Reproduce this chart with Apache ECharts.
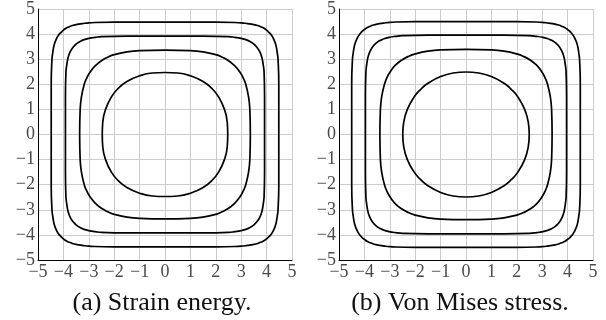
<!DOCTYPE html>
<html>
<head>
<meta charset="utf-8">
<script src="https://cdn.jsdelivr.net/npm/echarts@6/dist/echarts.min.js"></script>
<style>
  html, body { margin: 0; padding: 0; background: #fff; }
  #chart { width: 606px; height: 320px; }
</style>
</head>
<body>
<div id="chart"></div>
<script>
// tick values (both axes, both panels)
const ticks = [-5, -4, -3, -2, -1, 0, 1, 2, 3, 4, 5];
const captions = ['(a) Strain energy.', '(b) Von Mises stress.'];

// (a) strain energy contours (closed loops, clockwise from the top)
const strain1 = [[0,4.48],[2,4.48],[3,4.45],[3.25,4.42],[3.5,4.38],[3.65,4.34],[3.8,4.28],[3.9,4.23],[4,4.16],[4.08,4.08],[4.16,4],[4.23,3.9],[4.28,3.8],[4.34,3.65],[4.38,3.5],[4.42,3.25],[4.45,3],[4.48,2],[4.48,0],
  [4.48,-2],[4.45,-3],[4.42,-3.25],[4.38,-3.5],[4.34,-3.65],[4.28,-3.8],[4.23,-3.9],[4.16,-4],[4.08,-4.08],[4,-4.16],[3.9,-4.23],[3.8,-4.28],[3.65,-4.34],[3.5,-4.38],[3.25,-4.42],[3,-4.45],[2,-4.48],[0,-4.48],
  [-2,-4.48],[-3,-4.45],[-3.25,-4.42],[-3.5,-4.38],[-3.65,-4.34],[-3.8,-4.28],[-3.9,-4.23],[-4,-4.16],[-4.08,-4.08],[-4.16,-4],[-4.23,-3.9],[-4.28,-3.8],[-4.34,-3.65],[-4.38,-3.5],[-4.42,-3.25],[-4.45,-3],[-4.48,-2],[-4.48,0],
  [-4.48,2],[-4.45,3],[-4.42,3.25],[-4.38,3.5],[-4.34,3.65],[-4.28,3.8],[-4.23,3.9],[-4.16,4],[-4.08,4.08],[-4,4.16],[-3.9,4.23],[-3.8,4.28],[-3.65,4.34],[-3.5,4.38],[-3.25,4.42],[-3,4.45],[-2,4.48],[0,4.48]];
const strain2 = [[0,3.92],[1.5,3.92],[2.5,3.9],[2.75,3.87],[3,3.83],[3.15,3.79],[3.3,3.73],[3.45,3.64],[3.55,3.55],[3.64,3.45],[3.73,3.3],[3.79,3.15],[3.83,3],[3.87,2.75],[3.9,2.5],[3.92,1.5],[3.92,0],
  [3.92,-1.5],[3.9,-2.5],[3.87,-2.75],[3.83,-3],[3.79,-3.15],[3.73,-3.3],[3.64,-3.45],[3.55,-3.55],[3.45,-3.64],[3.3,-3.73],[3.15,-3.79],[3,-3.83],[2.75,-3.87],[2.5,-3.9],[1.5,-3.92],[0,-3.92],
  [-1.5,-3.92],[-2.5,-3.9],[-2.75,-3.87],[-3,-3.83],[-3.15,-3.79],[-3.3,-3.73],[-3.45,-3.64],[-3.55,-3.55],[-3.64,-3.45],[-3.73,-3.3],[-3.79,-3.15],[-3.83,-3],[-3.87,-2.75],[-3.9,-2.5],[-3.92,-1.5],[-3.92,0],
  [-3.92,1.5],[-3.9,2.5],[-3.87,2.75],[-3.83,3],[-3.79,3.15],[-3.73,3.3],[-3.64,3.45],[-3.55,3.55],[-3.45,3.64],[-3.3,3.73],[-3.15,3.79],[-3,3.83],[-2.75,3.87],[-2.5,3.9],[-1.5,3.92],[0,3.92]];
const strain3 = [[0,3.36],[1,3.34],[1.5,3.29],[2,3.18],[2.25,3.08],[2.5,2.94],[2.74,2.74],[2.94,2.5],[3.08,2.25],[3.18,2],[3.29,1.5],[3.34,1],[3.36,0],
  [3.34,-1],[3.29,-1.5],[3.18,-2],[3.08,-2.25],[2.94,-2.5],[2.74,-2.74],[2.5,-2.94],[2.25,-3.08],[2,-3.18],[1.5,-3.29],[1,-3.34],[0,-3.36],
  [-1,-3.34],[-1.5,-3.29],[-2,-3.18],[-2.25,-3.08],[-2.5,-2.94],[-2.74,-2.74],[-2.94,-2.5],[-3.08,-2.25],[-3.18,-2],[-3.29,-1.5],[-3.34,-1],[-3.36,0],
  [-3.34,1],[-3.29,1.5],[-3.18,2],[-3.08,2.25],[-2.94,2.5],[-2.74,2.74],[-2.5,2.94],[-2.25,3.08],[-2,3.18],[-1.5,3.29],[-1,3.34],[0,3.36]];
const strain4 = [[0,2.47],[0.5,2.45],[1,2.34],[1.5,2.11],[1.84,1.84],[2.11,1.5],[2.34,1],[2.45,0.5],[2.47,0],
  [2.45,-0.5],[2.34,-1],[2.11,-1.5],[1.84,-1.84],[1.5,-2.11],[1,-2.34],[0.5,-2.45],[0,-2.47],
  [-0.5,-2.45],[-1,-2.34],[-1.5,-2.11],[-1.84,-1.84],[-2.11,-1.5],[-2.34,-1],[-2.45,-0.5],[-2.47,0],
  [-2.45,0.5],[-2.34,1],[-2.11,1.5],[-1.84,1.84],[-1.5,2.11],[-1,2.34],[-0.5,2.45],[0,2.47]];

// (b) von Mises stress contours
const mises1 = [[0,4.5],[2,4.5],[3,4.47],[3.25,4.44],[3.5,4.4],[3.65,4.36],[3.8,4.3],[3.9,4.25],[4,4.18],[4.1,4.1],[4.18,4],[4.25,3.9],[4.3,3.8],[4.36,3.65],[4.4,3.5],[4.44,3.25],[4.47,3],[4.5,2],[4.5,0],
  [4.5,-2],[4.47,-3],[4.44,-3.25],[4.4,-3.5],[4.36,-3.65],[4.3,-3.8],[4.25,-3.9],[4.18,-4],[4.1,-4.1],[4,-4.18],[3.9,-4.25],[3.8,-4.3],[3.65,-4.36],[3.5,-4.4],[3.25,-4.44],[3,-4.47],[2,-4.5],[0,-4.5],
  [-2,-4.5],[-3,-4.47],[-3.25,-4.44],[-3.5,-4.4],[-3.65,-4.36],[-3.8,-4.3],[-3.9,-4.25],[-4,-4.18],[-4.1,-4.1],[-4.18,-4],[-4.25,-3.9],[-4.3,-3.8],[-4.36,-3.65],[-4.4,-3.5],[-4.44,-3.25],[-4.47,-3],[-4.5,-2],[-4.5,0],
  [-4.5,2],[-4.47,3],[-4.44,3.25],[-4.4,3.5],[-4.36,3.65],[-4.3,3.8],[-4.25,3.9],[-4.18,4],[-4.1,4.1],[-4,4.18],[-3.9,4.25],[-3.8,4.3],[-3.65,4.36],[-3.5,4.4],[-3.25,4.44],[-3,4.47],[-2,4.5],[0,4.5]];
const mises2 = [[0,3.96],[1.5,3.96],[2.5,3.94],[2.78,3.91],[3.03,3.87],[3.18,3.83],[3.33,3.77],[3.49,3.68],[3.59,3.59],[3.68,3.49],[3.77,3.33],[3.83,3.18],[3.87,3.03],[3.91,2.78],[3.94,2.5],[3.96,1.5],[3.96,0],
  [3.96,-1.5],[3.94,-2.5],[3.91,-2.78],[3.87,-3.03],[3.83,-3.18],[3.77,-3.33],[3.68,-3.49],[3.59,-3.59],[3.49,-3.68],[3.33,-3.77],[3.18,-3.83],[3.03,-3.87],[2.78,-3.91],[2.5,-3.94],[1.5,-3.96],[0,-3.96],
  [-1.5,-3.96],[-2.5,-3.94],[-2.78,-3.91],[-3.03,-3.87],[-3.18,-3.83],[-3.33,-3.77],[-3.49,-3.68],[-3.59,-3.59],[-3.68,-3.49],[-3.77,-3.33],[-3.83,-3.18],[-3.87,-3.03],[-3.91,-2.78],[-3.94,-2.5],[-3.96,-1.5],[-3.96,0],
  [-3.96,1.5],[-3.94,2.5],[-3.91,2.78],[-3.87,3.03],[-3.83,3.18],[-3.77,3.33],[-3.68,3.49],[-3.59,3.59],[-3.49,3.68],[-3.33,3.77],[-3.18,3.83],[-3.03,3.87],[-2.78,3.91],[-2.5,3.94],[-1.5,3.96],[0,3.96]];
const mises3 = [[0,3.39],[1,3.37],[1.5,3.32],[2,3.21],[2.27,3.11],[2.52,2.97],[2.77,2.77],[2.97,2.52],[3.11,2.27],[3.21,2],[3.32,1.5],[3.37,1],[3.39,0],
  [3.37,-1],[3.32,-1.5],[3.21,-2],[3.11,-2.27],[2.97,-2.52],[2.77,-2.77],[2.52,-2.97],[2.27,-3.11],[2,-3.21],[1.5,-3.32],[1,-3.37],[0,-3.39],
  [-1,-3.37],[-1.5,-3.32],[-2,-3.21],[-2.27,-3.11],[-2.52,-2.97],[-2.77,-2.77],[-2.97,-2.52],[-3.11,-2.27],[-3.21,-2],[-3.32,-1.5],[-3.37,-1],[-3.39,0],
  [-3.37,1],[-3.32,1.5],[-3.21,2],[-3.11,2.27],[-2.97,2.52],[-2.77,2.77],[-2.52,2.97],[-2.27,3.11],[-2,3.21],[-1.5,3.32],[-1,3.37],[0,3.39]];
const mises4 = [[0,2.49],[0.5,2.45],[1,2.31],[1.5,2.04],[1.79,1.79],[2.04,1.5],[2.31,1],[2.45,0.5],[2.49,0],
  [2.45,-0.5],[2.31,-1],[2.04,-1.5],[1.79,-1.79],[1.5,-2.04],[1,-2.31],[0.5,-2.45],[0,-2.49],
  [-0.5,-2.45],[-1,-2.31],[-1.5,-2.04],[-1.79,-1.79],[-2.04,-1.5],[-2.31,-1],[-2.45,-0.5],[-2.49,0],
  [-2.45,0.5],[-2.31,1],[-2.04,1.5],[-1.79,1.79],[-1.5,2.04],[-1,2.31],[-0.5,2.45],[0,2.49]];

const panels = [
  { curves: [strain1, strain2, strain3, strain4], left: 38, caption: 157 },
  { curves: [mises1, mises2, mises3, mises4], left: 339, caption: 455 }
];

const FONT = '"Liberation Serif", "DejaVu Serif", serif';

function axis(i, margin) {
  return {
    type: 'value',
    gridIndex: i,
    min: ticks[0],
    max: ticks[ticks.length - 1],
    interval: 1,
    axisLine: { show: true, onZero: false, lineStyle: { color: '#000', width: 1 } },
    axisTick: { show: false },
    splitLine: { show: true, lineStyle: { color: '#cccccc', width: 1 } },
    axisLabel: {
      color: '#4a4a4a',
      fontFamily: FONT,
      fontSize: 18,
      margin: margin,
      formatter: v => String(v).replace('-', '\u2212')
    }
  };
}

let chart = echarts.init(document.getElementById('chart'));
chart.setOption({
  animation: false,
  grid: panels.map(p => ({ left: p.left, top: 6, width: 254, height: 254 })),
  xAxis: panels.map((p, i) => axis(i, 3)),
  yAxis: panels.map((p, i) => axis(i, 3)),
  title: panels.map((p, i) => ({
    text: captions[i],
    left: p.caption,
    top: 285,
    textAlign: 'center',
    textStyle: { fontFamily: FONT, fontWeight: 'normal', fontSize: 26, color: '#111' }
  })),
  series: panels.flatMap((p, i) => p.curves.map(c => ({
    type: 'line',
    xAxisIndex: i,
    yAxisIndex: i,
    data: c,
    showSymbol: false,
    smooth: 0.5,
    lineStyle: { color: '#000', width: 1.7 }
  })))
});
</script>
</body>
</html>
